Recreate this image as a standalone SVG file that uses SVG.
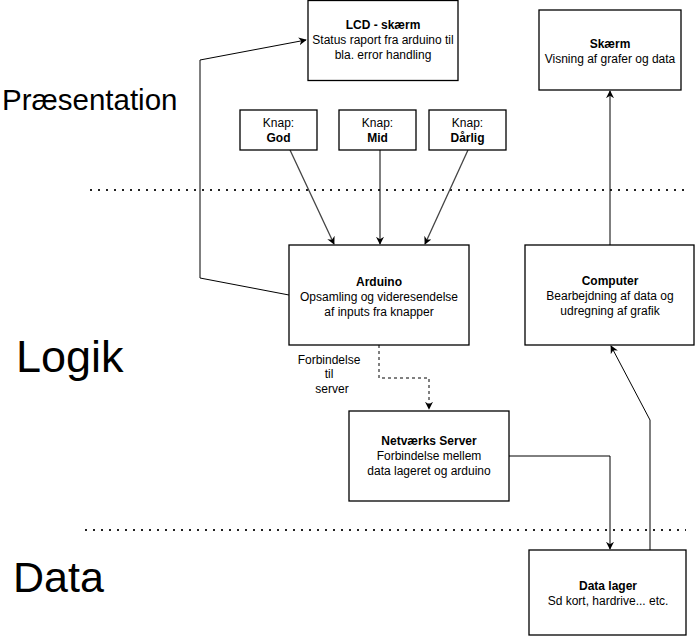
<svg xmlns="http://www.w3.org/2000/svg" width="695" height="636" viewBox="0 0 695 636">
<defs>
<style>
.box{fill:#fff;stroke:#000;stroke-width:1.3}
.t{font-family:"Liberation Sans",Arial,sans-serif;font-size:12px;fill:#000;text-anchor:middle}
.b{font-weight:bold}
.big{font-family:"Liberation Sans",Arial,sans-serif;fill:#000}
.c{fill:none;stroke:#000;stroke-width:1}
.g{fill:none;stroke:#444;stroke-width:1.3}
.dot{fill:none;stroke:#222;stroke-width:2;stroke-dasharray:2 6}
</style>
<marker id="ah" viewBox="0 0 10 10" refX="9" refY="5" markerWidth="8" markerHeight="8" markerUnits="userSpaceOnUse" orient="auto">
<path d="M0,0 L10,5 L0,10 L3,5 Z" fill="#000"/>
</marker>
</defs>
<rect width="695" height="636" fill="#fff"/>
<g id="layers">
<line class="dot" x1="90" y1="190" x2="686" y2="190"/>
<line class="dot" x1="85" y1="530" x2="686" y2="530"/>
<text class="big" x="2" y="110" font-size="29.5">Præsentation</text>
<text class="big" x="16" y="372" font-size="45">Logik</text>
<text class="big" x="13" y="592" font-size="43">Data</text>
</g>
<g id="connectors">
<polyline class="c" points="289,295 200,278 200,60 306,40" marker-end="url(#ah)"/>
<line class="g" x1="290" y1="150" x2="334" y2="244" marker-end="url(#ah)"/>
<line class="c" x1="380" y1="150" x2="380" y2="244" marker-end="url(#ah)"/>
<line class="g" x1="468" y1="150" x2="425" y2="244" marker-end="url(#ah)"/>
<line class="c" x1="610" y1="245" x2="610" y2="91" marker-end="url(#ah)"/>
<polyline class="c" points="379,345 379,378 429,378 429,409" stroke-dasharray="3 3" marker-end="url(#ah)"/>
<polyline class="c" points="509,456 610,456 610,549" marker-end="url(#ah)"/>
<polyline class="c" points="650,550 650,420 611,346" marker-end="url(#ah)"/>
<text class="t" x="329" y="364">Forbindelse</text>
<text class="t" x="329" y="378">til</text>
<text class="t" x="332" y="393">server</text>
</g>
<g id="lcd">
<rect class="box" x="308" y="0.5" width="150" height="80"/>
<text class="t b" x="383" y="29">LCD - skærm</text>
<text class="t" x="383" y="44">Status raport fra arduino til</text>
<text class="t" x="383" y="59">bla. error handling</text>
</g>
<g id="skaerm">
<rect class="box" x="539" y="10" width="142" height="80"/>
<text class="t b" x="610" y="48">Skærm</text>
<text class="t" x="610" y="63">Visning af grafer og data</text>
</g>
<g id="knap-god">
<rect class="box" x="240" y="110" width="77" height="40"/>
<text class="t" x="278.5" y="127">Knap:</text>
<text class="t b" x="278.5" y="142">God</text>
</g>
<g id="knap-mid">
<rect class="box" x="339" y="110" width="77" height="40"/>
<text class="t" x="377.5" y="127">Knap:</text>
<text class="t b" x="377.5" y="142">Mid</text>
</g>
<g id="knap-darlig">
<rect class="box" x="429" y="110" width="77" height="40"/>
<text class="t" x="467.5" y="127">Knap:</text>
<text class="t b" x="467.5" y="142">Dårlig</text>
</g>
<g id="arduino">
<rect class="box" x="289" y="245" width="180" height="100"/>
<text class="t b" x="379" y="286">Arduino</text>
<text class="t" x="379" y="301">Opsamling og videresendelse</text>
<text class="t" x="379" y="316">af inputs fra knapper</text>
</g>
<g id="computer">
<rect class="box" x="525" y="245" width="169" height="100"/>
<text class="t b" x="610" y="285">Computer</text>
<text class="t" x="610" y="300">Bearbejdning af data og</text>
<text class="t" x="610" y="315">udregning af grafik</text>
</g>
<g id="server">
<rect class="box" x="349" y="411" width="160" height="90"/>
<text class="t b" x="429" y="445">Netværks Server</text>
<text class="t" x="429" y="460">Forbindelse mellem</text>
<text class="t" x="429" y="475">data lageret og arduino</text>
</g>
<g id="datalager">
<rect class="box" x="529" y="550" width="157" height="85"/>
<text class="t b" x="608" y="590">Data lager</text>
<text class="t" x="608" y="605">Sd kort, hardrive... etc.</text>
</g>
</svg>
